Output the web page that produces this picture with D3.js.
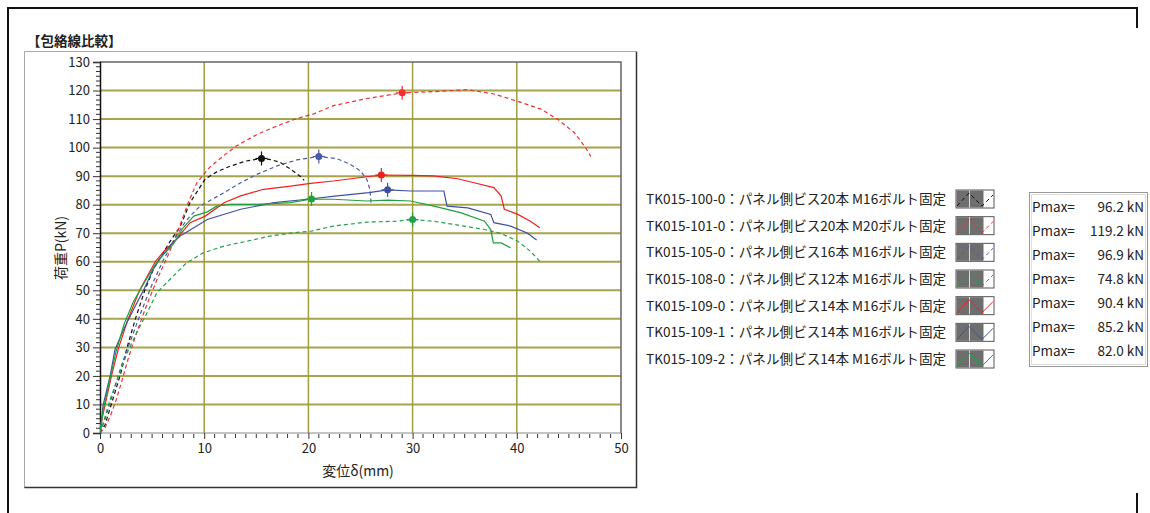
<!DOCTYPE html>
<html>
<head>
<meta charset="utf-8">
<script src="https://cdn.jsdelivr.net/npm/d3@7"></script>
<style>
  body { margin: 0; background: #fff; }
  svg text { font-family: "Noto Sans CJK JP", "Noto Sans", sans-serif; fill: #222; }
</style>
</head>
<body>
<svg id="chart"></svg>
<script>
var width = 1150,
    height = 513;

// data
var xTicks = [0, 10, 20, 30, 40, 50],
    yTicks = [0, 10, 20, 30, 40, 50, 60, 70, 80, 90, 100, 110, 120, 130];

var names = ["TK015-100-0：パネル側ビス20本 M16ボルト固定",
             "TK015-101-0：パネル側ビス20本 M20ボルト固定",
             "TK015-105-0：パネル側ビス16本 M16ボルト固定",
             "TK015-108-0：パネル側ビス12本 M16ボルト固定",
             "TK015-109-0：パネル側ビス14本 M16ボルト固定",
             "TK015-109-1：パネル側ビス14本 M16ボルト固定",
             "TK015-109-2：パネル側ビス14本 M16ボルト固定"];

var pmax = ["96.2", "119.2", "96.9", "74.8", "90.4", "85.2", "82.0"];

var peaks = [[15.5, 96.2], [29, 119.2], [21, 96.9], [30, 74.8], [27, 90.4], [27.6, 85.2], [20.3, 82.0]];

var s100_0 = [[0,0],[0.5,3],[1,9],[1.5,15],[2,21],[2.6,30],[3.4,40],[4.3,50],[5.2,58],[5.8,61.5],[6.7,67],[7.7,72.4],[8.65,80.8],[10.1,89],[11.2,91.5],[12.5,93.5],[14,95.3],[15.5,96.2],[16.4,95.8],[17.3,94.8],[18.3,92.4],[19.2,90],[19.6,88.5]];
var s101_0 = [[0,0],[0.5,2],[1,6],[1.5,11],[2,17],[2.7,26],[3.5,35],[4.5,45],[5.5,54],[6.5,62],[7.5,71],[8.5,81],[9.3,87.7],[10.5,93],[11.8,97],[13.1,100.6],[15.1,104.7],[17,107.6],[18.9,110.2],[20.5,111.8],[22.4,114.7],[25.6,117.2],[29,119.2],[32,119.6],[35.3,120.3],[37.8,118.8],[40.1,116.2],[42.3,113.5],[43.9,110],[45.5,105.3],[46.6,100],[47.1,96.9]];
var s105_0 = [[0,0],[0.5,5],[1,11],[1.5,17],[2,23],[3,33],[4,43],[5,52],[6,60],[7,67],[8,73],[8.65,76],[9.6,79.5],[11.9,84.2],[13.5,87.7],[15.1,90.7],[17,93.6],[18.9,95.7],[21,96.9],[22.75,96.1],[24,94.2],[25,91.8],[25.6,88.9],[25.9,85.4],[26,81.3],[26,80.5]];
var s108_0 = [[0,0],[0.3,3.4],[0.96,11.6],[1.76,19.8],[2.6,28],[3.5,35],[4.5,42],[5.45,49.1],[6.7,53.8],[8.3,59.6],[9.9,63.1],[11.9,65.5],[14.1,67.2],[16.3,69],[18.6,70.2],[20.2,70.7],[22.4,72.5],[25.6,73.9],[28.5,74.2],[30,74.8],[32.05,74.2],[34.6,72.7],[36.9,71.3],[38.5,69.9],[40.1,67.2],[41.3,63.7],[42.3,59.8]];
var s109_0 = [[0,0],[0.2,5],[0.5,10],[1.1,20],[1.8,30],[2.7,40],[3.8,50],[5.3,60],[6.2,64],[7.05,66.7],[8.65,73.7],[10.1,76],[11.9,80.7],[13.5,83.1],[15.7,85.4],[18.3,86.5],[20.2,87.5],[22.4,88.3],[25.6,89.8],[27,90.4],[29.8,90.3],[32,90.1],[34.3,89.1],[35.9,87.7],[37.8,86],[38.5,83],[38.8,78.4],[40.1,76.6],[41.3,74.2],[42.2,71.9]];
var s109_1 = [[0,0],[0.3,9.8],[0.96,19.8],[1.44,29.2],[2.25,36.2],[3.2,43.2],[4.2,50.2],[5.1,57.3],[5.9,61.9],[6.8,66],[7.7,69],[10.3,74.8],[13.5,78.4],[16.7,80.7],[19.9,81.9],[22.75,83.1],[25.8,84.2],[27.6,85.2],[29.8,84.8],[33,84.8],[33.3,79.5],[35.3,78.9],[37.5,76.6],[37.8,73.7],[39.4,72.5],[41,70.1],[41.9,67.6]];
var s109_2 = [[0,0],[0.3,8],[0.9,18],[1.5,28],[2.3,38],[3.2,46],[4.3,53],[5.3,59],[6.2,63],[7,66],[8,72],[9,76],[10.3,77.5],[11.2,79.5],[12.5,80.1],[15.1,80.1],[18.3,80.7],[20.3,82],[22.4,81.9],[25.6,81.3],[27.6,81.6],[29.8,81.3],[32.05,79.5],[34.6,77.2],[36.9,74.2],[37.5,71.3],[37.75,66.6],[38.5,66.6],[39.4,64.9]];

var seriesData = [s100_0, s101_0, s105_0, s108_0, s109_0, s109_1, s109_2],
    colors = ["#111111", "#f03030", "#4a5aa8", "#22a04a", "#f02020", "#4050a0", "#20a040"],
    dashed = [true, true, true, true, false, false, false];

var plot = {left: 100, right: 621, top: 62, bottom: 433};

var svg = d3.select("#chart").attr("width", width).attr("height", height);

var x = d3.scaleLinear().domain([0, 50]).range([plot.left, plot.right]),
    y = d3.scaleLinear().domain([0, 130]).range([plot.bottom, plot.top]);

// outer frame
svg.append("path")
    .attr("d", "M8,513 L8,8 L1137,8 L1137,28")
    .attr("fill", "none").attr("stroke", "#111").attr("stroke-width", 2);
svg.append("line")
    .attr("x1", 1137).attr("x2", 1137).attr("y1", 493).attr("y2", 513)
    .attr("stroke", "#111").attr("stroke-width", 2);

// title
svg.append("text")
    .attr("x", 27).attr("y", 46)
    .attr("font-size", 13.5).attr("font-weight", "bold")
    .text("【包絡線比較】");

// chart panel (sunken look)
svg.append("path").attr("d", "M24.5,488 L24.5,51.5 L636,51.5")
    .attr("fill", "none").attr("stroke", "#a8a8a8");
svg.append("path").attr("d", "M24.5,487.5 L636.5,487.5 L636.5,51.5")
    .attr("fill", "none").attr("stroke", "#333").attr("stroke-width", 1.5);

// grid
svg.append("g").selectAll("line").data(yTicks.slice(1, -1)).join("line")
    .attr("x1", plot.left).attr("x2", plot.right)
    .attr("y1", d => y(d)).attr("y2", d => y(d))
    .attr("stroke", "#a6a44c").attr("stroke-width", 2);
svg.append("g").selectAll("line").data(xTicks.slice(1, -1)).join("line")
    .attr("x1", d => x(d)).attr("x2", d => x(d))
    .attr("y1", plot.top).attr("y2", plot.bottom)
    .attr("stroke", "#a09e40").attr("stroke-width", 1.5);

// plot frame
svg.append("path")
    .attr("d", "M" + plot.left + "," + plot.top + " L" + plot.right + "," + plot.top + " L" + plot.right + "," + plot.bottom)
    .attr("fill", "none").attr("stroke", "#666").attr("stroke-width", 1.5);
svg.append("line")
    .attr("x1", plot.left).attr("x2", plot.right).attr("y1", plot.bottom).attr("y2", plot.bottom)
    .attr("stroke", "#888").attr("stroke-width", 1);

// axes
var yAxis = d3.axisLeft(y).tickValues(yTicks).tickSize(7).tickPadding(3);
var gy = svg.append("g").attr("transform", "translate(" + plot.left + ",0)").call(yAxis);
gy.select(".domain").attr("stroke", "#111").attr("stroke-width", 1.5);
gy.selectAll(".tick line").attr("stroke", "#333");
gy.selectAll("text").attr("font-size", 13).attr("fill", "#222");

var yMinor = d3.range(0, 130, 10 / 6).filter(d => Math.abs(d % 10) > 0.01 && Math.abs(d % 10 - 10) > 0.01);
svg.append("g").selectAll("line").data(yMinor).join("line")
    .attr("x1", plot.left - 4).attr("x2", plot.left)
    .attr("y1", d => y(d)).attr("y2", d => y(d))
    .attr("stroke", "#333");

var xAxis = d3.axisBottom(x).tickValues(xTicks).tickSize(6).tickPadding(5);
var gx = svg.append("g").attr("transform", "translate(0," + plot.bottom + ")").call(xAxis);
gx.select(".domain").remove();
gx.selectAll(".tick line").attr("stroke", "#333");
gx.selectAll("text").attr("font-size", 13).attr("fill", "#222");

var xMinor = d3.range(1, 50).filter(d => d % 10 !== 0);
svg.append("g").selectAll("line").data(xMinor).join("line")
    .attr("x1", d => x(d)).attr("x2", d => x(d))
    .attr("y1", plot.bottom + 1).attr("y2", plot.bottom + 5)
    .attr("stroke", "#333");

// axis labels
svg.append("text")
    .attr("x", 358).attr("y", 476)
    .attr("text-anchor", "middle").attr("font-size", 14)
    .text("変位δ(mm)");
svg.append("text")
    .attr("transform", "translate(66,248) rotate(-90)")
    .attr("text-anchor", "middle").attr("font-size", 14)
    .text("荷重P(kN)");

// curves
var getPath = d3.line()
    .x(d => x(d[0]))
    .y(d => y(d[1]))
    .curve(d3.curveLinear);

var clip = svg.append("clipPath").attr("id", "clip")
    .append("rect").attr("x", plot.left).attr("y", plot.top)
    .attr("width", plot.right - plot.left).attr("height", plot.bottom - plot.top);

var gLines = svg.append("g").attr("clip-path", "url(#clip)");
seriesData.forEach(function(s, i) {
    gLines.append("path")
        .attr("d", getPath(s))
        .attr("fill", "none")
        .attr("stroke", colors[i])
        .attr("stroke-width", 1.2)
        .attr("stroke-dasharray", dashed[i] ? "4,3" : null);
});

// peak markers
peaks.forEach(function(p, i) {
    var g = svg.append("g").attr("transform", "translate(" + x(p[0]) + "," + y(p[1]) + ")");
    g.append("line").attr("x1", -6).attr("x2", 6).attr("stroke", colors[i]).attr("stroke-width", 1.2);
    g.append("line").attr("y1", -7).attr("y2", 7).attr("stroke", colors[i]).attr("stroke-width", 1.2);
    g.append("circle").attr("r", 3.5).attr("fill", colors[i]);
});

// legend
var legendY = d3.scaleLinear().domain([0, 6]).range([199, 359]);
names.forEach(function(n, i) {
    var cy = legendY(i);
    svg.append("text")
        .attr("x", 646).attr("y", cy + 5)
        .attr("font-size", 13.6)
        .text(n);
    var g = svg.append("g").attr("transform", "translate(956," + (cy - 9) + ")");
    g.append("rect").attr("width", 38).attr("height", 18).attr("fill", "#fff").attr("stroke", "#555");
    g.append("rect").attr("x", 0.5).attr("y", 0.5).attr("width", 27).attr("height", 17).attr("fill", "#6e6e6e");
    g.append("line").attr("x1", 13.5).attr("x2", 13.5).attr("y1", 0.5).attr("y2", 17.5)
        .attr("stroke", "#ddd").attr("stroke-width", 1);
    g.append("path")
        .attr("d", "M1,16 L13,3 L26,16 L37,5")
        .attr("fill", "none")
        .attr("stroke", colors[i])
        .attr("stroke-width", 1)
        .attr("stroke-dasharray", dashed[i] ? "4,3" : null);
});

// Pmax box
svg.append("rect").attr("x", 1029.5).attr("y", 192.5).attr("width", 118).attr("height", 174)
    .attr("fill", "#fff").attr("stroke", "#999");
svg.append("rect").attr("x", 1031.5).attr("y", 194.5).attr("width", 114).attr("height", 170)
    .attr("fill", "none").attr("stroke", "#ddd");
var pY = d3.scaleLinear().domain([0, 6]).range([207, 351]);
pmax.forEach(function(v, i) {
    svg.append("text").attr("x", 1032).attr("y", pY(i) + 5).attr("font-size", 13.5).text("Pmax=");
    svg.append("text").attr("x", 1144).attr("y", pY(i) + 5).attr("font-size", 13.5)
        .attr("text-anchor", "end").text(v + " kN");
});
</script>
</body>
</html>
